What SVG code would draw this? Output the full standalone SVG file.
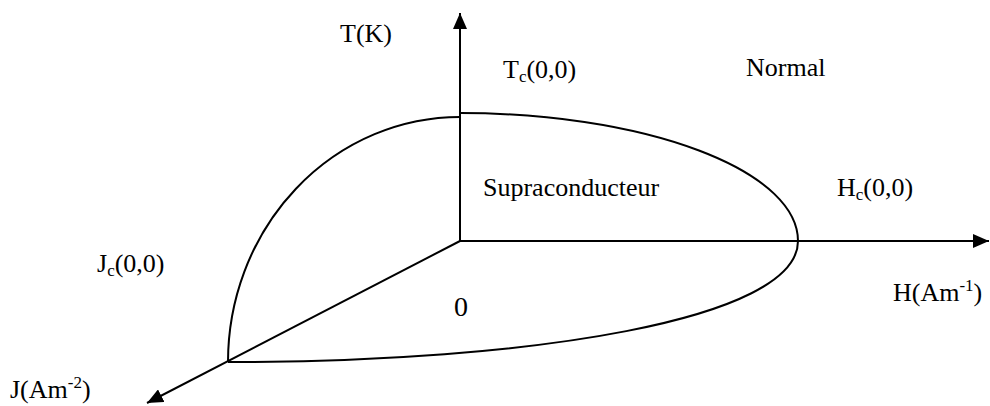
<svg xmlns="http://www.w3.org/2000/svg" width="990" height="406" viewBox="0 0 990 406">
<defs>
<marker id="arr" markerUnits="userSpaceOnUse" markerWidth="16" markerHeight="14" refX="16" refY="7" orient="auto">
<path d="M0,0 L16,7 L0,14 Z" fill="#000"/>
</marker>
<style>
.ax{stroke:#000;stroke-width:2;fill:none}
.cv{stroke:#000;stroke-width:2;fill:none}
text{font-family:"Liberation Serif","Times New Roman",serif;font-size:26px;fill:#000}
.sub{font-size:17px}
.big{font-size:28px}
</style>
</defs>
<rect width="990" height="406" fill="#fff"/>
<g id="connectors">
<line class="ax" x1="460" y1="241" x2="460" y2="13" marker-end="url(#arr)"/>
<line class="ax" x1="460" y1="241" x2="989" y2="241" marker-end="url(#arr)"/>
<line class="ax" x1="460" y1="241" x2="147" y2="403" marker-end="url(#arr)"/>
</g>
<g id="surface">
<path class="cv" d="M228,362 A232,245 0 0 1 460,117"/>
<path class="cv" d="M460,113 A338,128 0 0 1 798,241"/>
<path class="cv" d="M798,241 C798,320 530,362 228,362"/>
</g>
<g id="labels">
<text x="340" y="42">T(K)</text>
<text x="503" y="78">T<tspan class="sub" dy="4">c</tspan><tspan dy="-4">(0,0)</tspan></text>
<text x="746" y="76">Normal</text>
<text x="483" y="196">Supraconducteur</text>
<text x="837" y="196">H<tspan class="sub" dy="4">c</tspan><tspan dy="-4">(0,0)</tspan></text>
<text x="97" y="272">J<tspan class="sub" dy="4">c</tspan><tspan dy="-4">(0,0)</tspan></text>
<text class="big" x="454" y="316">0</text>
<text x="893" y="301">H(Am<tspan class="sub" dy="-10">-1</tspan><tspan dy="10">)</tspan></text>
<text x="10" y="398">J(Am<tspan class="sub" dy="-10">-2</tspan><tspan dy="10">)</tspan></text>
</g>
</svg>
